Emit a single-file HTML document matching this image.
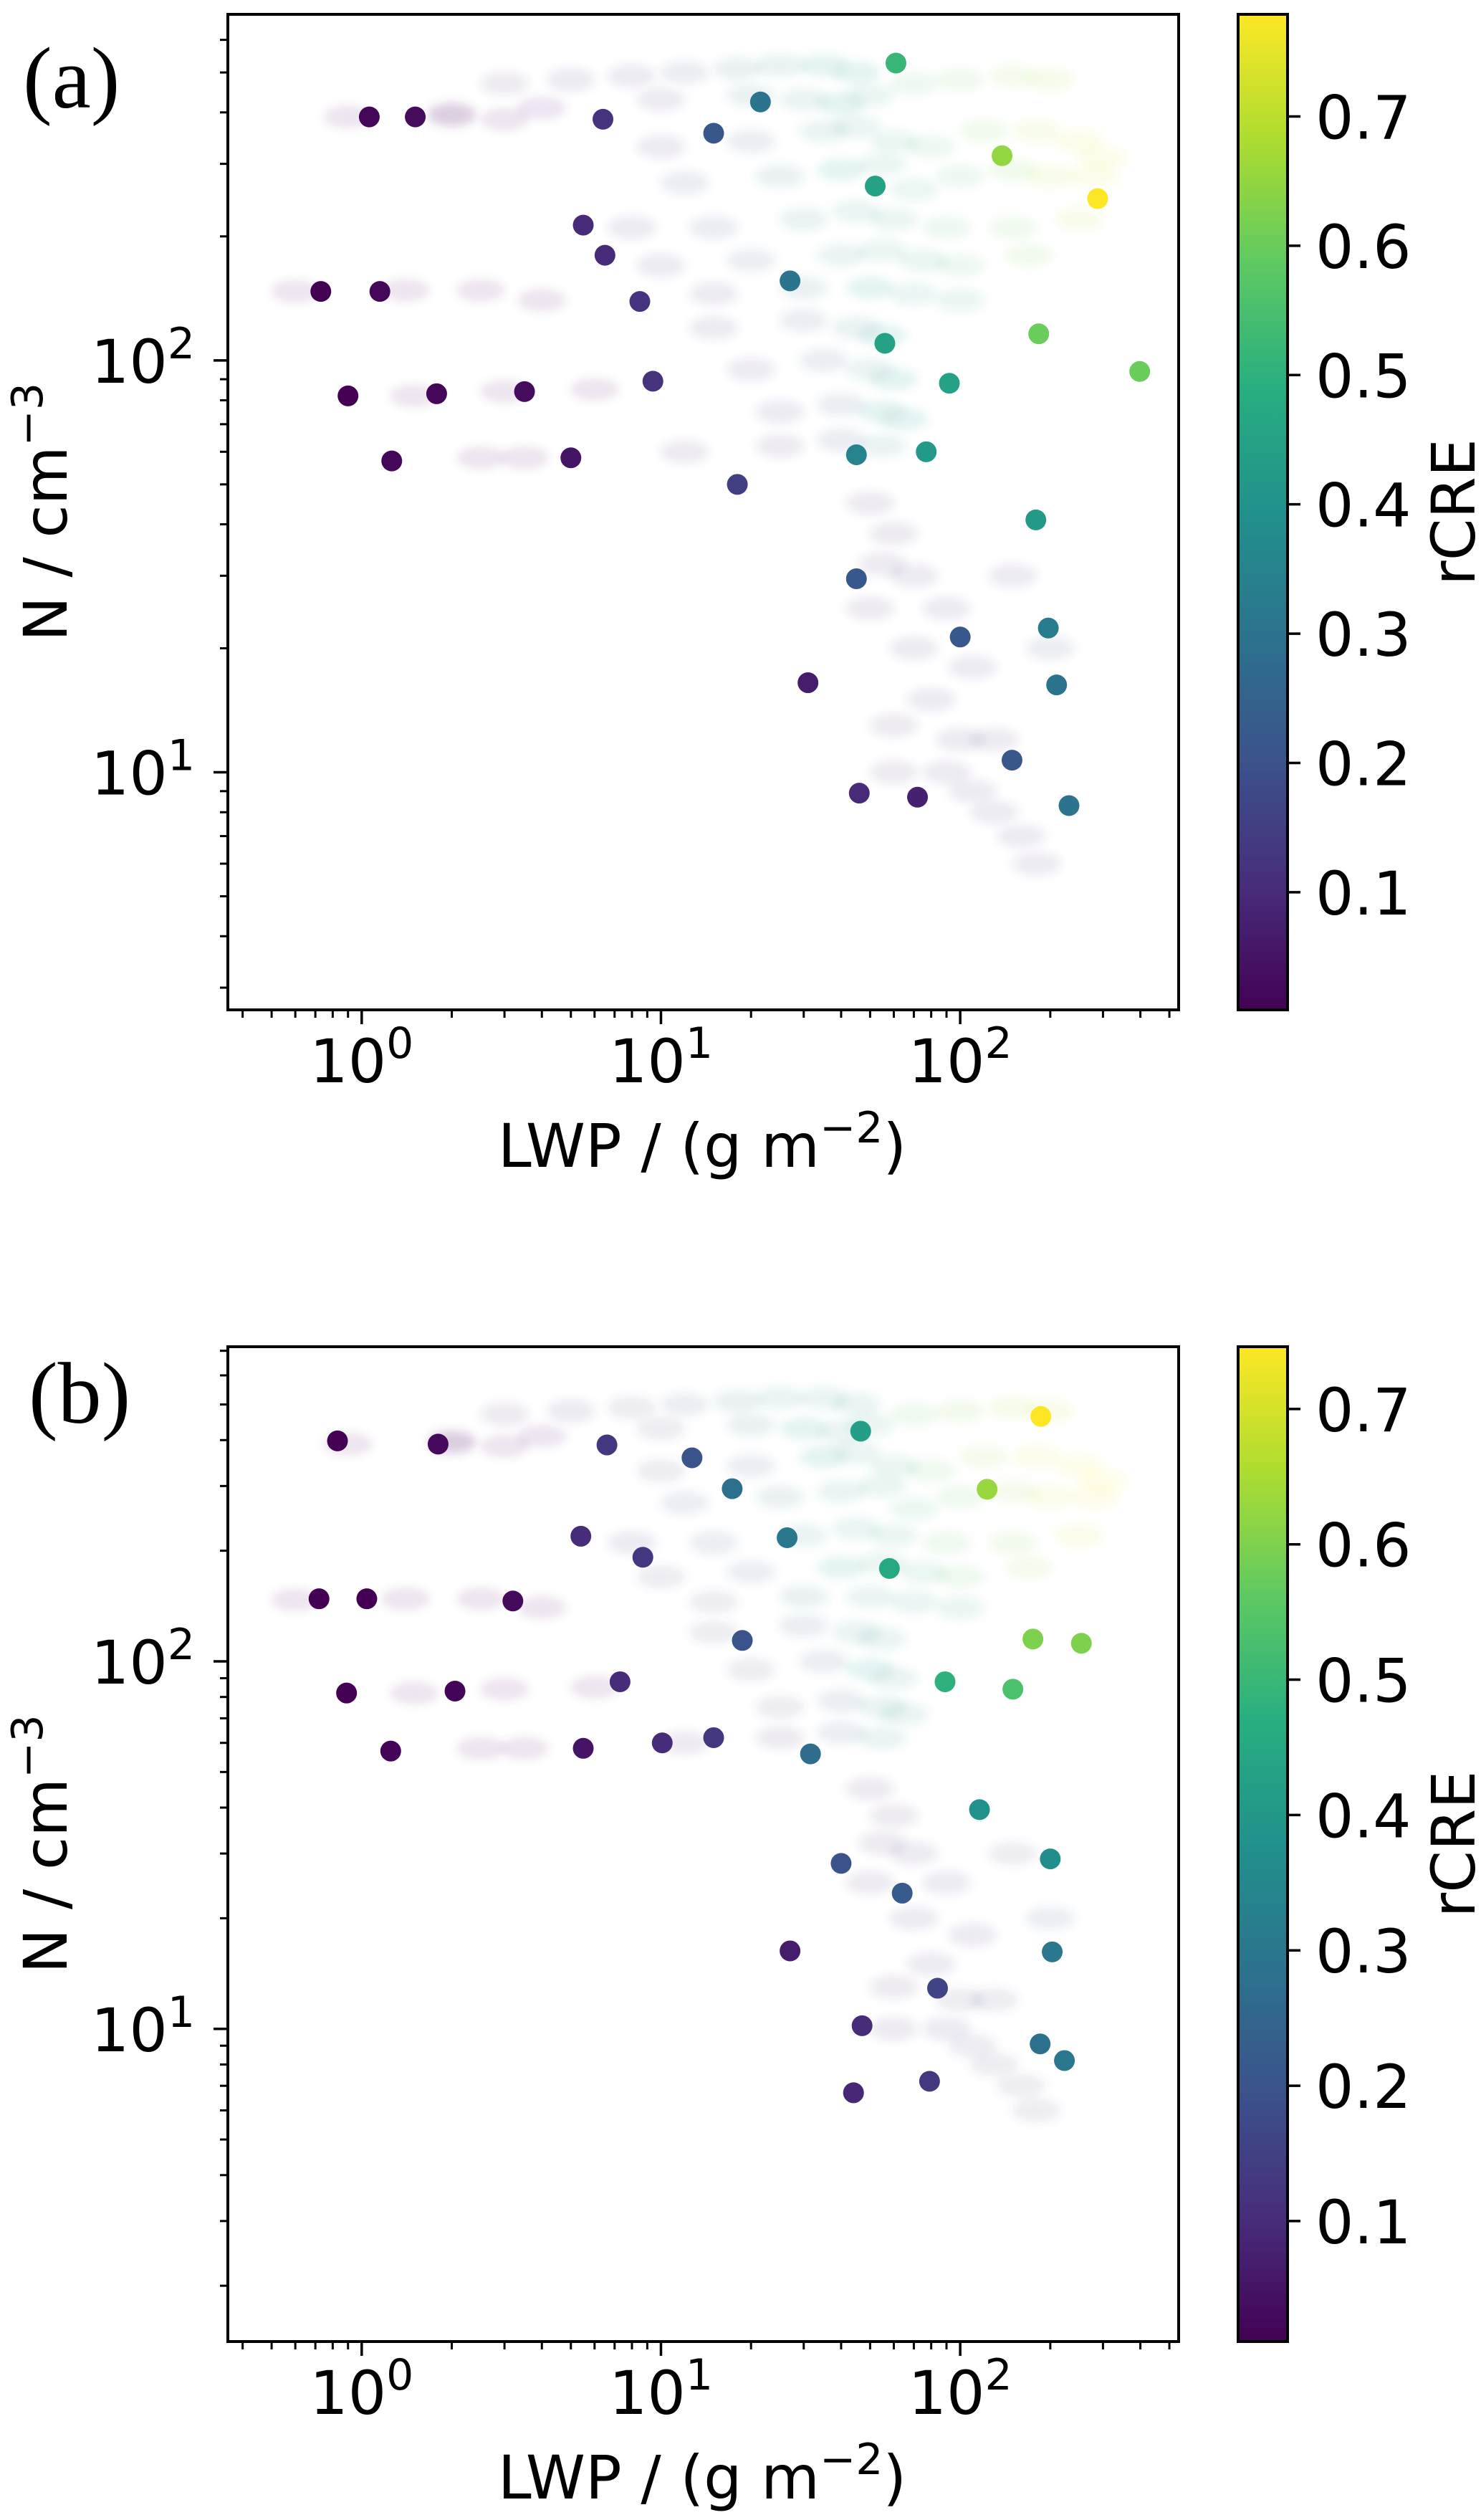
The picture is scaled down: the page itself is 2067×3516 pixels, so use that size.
<!DOCTYPE html>
<html><head><meta charset="utf-8">
<style>
html,body{margin:0;padding:0;background:#fff;}
svg{display:block;}
text{font-family:"DejaVu Sans","Liberation Sans",sans-serif;fill:#000;}
.serif{font-family:"Liberation Serif",serif;}
</style></head>
<body>
<svg id="fig" width="2067" height="3516" viewBox="0 0 2067 3516" xmlns="http://www.w3.org/2000/svg">
<defs>
<linearGradient id="viridis" x1="0" y1="1" x2="0" y2="0">
<stop offset="0" stop-color="#440154"/><stop offset="0.125" stop-color="#472d7b"/><stop offset="0.25" stop-color="#3b528b"/><stop offset="0.375" stop-color="#2c728e"/><stop offset="0.5" stop-color="#21918c"/><stop offset="0.625" stop-color="#28ae80"/><stop offset="0.75" stop-color="#5ec962"/><stop offset="0.875" stop-color="#addc30"/><stop offset="1" stop-color="#fde725"/>
</linearGradient>
<filter id="soft" x="-50%" y="-50%" width="200%" height="200%"><feGaussianBlur stdDeviation="6"/></filter>
</defs>
</svg>
<script>
// ---- data: panel (a) ----
const aLWP = [1.06,1.51,6.4,15,21.5,61,138,288,52,5.5,6.5,27,0.73,1.15,8.5,56,183,398,0.9,1.78,3.5,9.4,92,1.26,5,18,45,77,179,45,100,197,31,210,149,46,72,231];
const aN   = [390,390,385,356,424,527,314,247,265,213,180,156,147,147,139,110,116,94,82,83,84,89,88,57,58,50,59,60,41,29.5,21.3,22.4,16.5,16.3,10.7,8.9,8.7,8.3];
const aC   = [0.02,0.03,0.12,0.22,0.3,0.52,0.65,0.78,0.45,0.1,0.1,0.3,0.01,0.02,0.12,0.45,0.6,0.6,0.01,0.02,0.03,0.12,0.45,0.02,0.05,0.15,0.35,0.42,0.42,0.22,0.22,0.33,0.07,0.3,0.22,0.1,0.08,0.3];
// ---- data: panel (b) ----
const bLWP = [0.83,1.8,6.6,12.7,17.3,46.5,186,123,5.4,8.7,26.4,58,0.72,1.04,3.2,18.7,175,254,0.89,2.05,7.3,89,150,1.25,5.5,10.1,15,31.6,116,40,200,64,27,203,84,47,185,223,79,44];
const bN   = [398,390,388,358,295,423,464,294,219,192,217,179,148,148,146,114,115,112,82,83,88,88,84,57,58,60,62,56,39.5,28.2,29,23.4,16.3,16.2,12.9,10.2,9.1,8.2,7.2,6.7];
const bC   = [0.01,0.03,0.13,0.2,0.28,0.42,0.75,0.63,0.1,0.13,0.3,0.45,0.01,0.01,0.03,0.2,0.6,0.6,0.01,0.02,0.1,0.48,0.53,0.02,0.05,0.1,0.13,0.27,0.38,0.2,0.37,0.22,0.07,0.3,0.16,0.1,0.28,0.3,0.13,0.09];
// ---- faint background ensemble (shared) ----
const bgLWP = [3,5,8,12,18,25,35,45, 2,4,10,20,30,40,50,70,100,150,200, 10,20,35,45,60,80,120,180,250,300, 12,25,40,55,70,100,150,200,280, 8,15,30,45,60,90,150,250, 10,20,40,55,75,100,170, 15,30,50,70,100, 15,30,45,55, 20,35,50,60, 25,40,55,65, 25,40,55, 50,60,55,70,90,50,70,110,80,60,100,130,90,110,130,160,180,60,150,200, 0.6,1.4,2.5,4,1.5,3,6,2.5,3.5,12,0.9,2,3];
const bgN   = [470,480,490,500,510,520,520,500, 400,410,430,440,430,420,440,470,480,490,480, 330,340,360,370,340,330,360,360,340,310, 270,280,290,300,260,280,290,280,280, 210,210,220,230,220,210,210,220, 170,175,180,185,175,170,180, 145,150,150,145,140, 120,125,120,115, 95,100,95,90, 75,78,75,72, 62,64,62, 45,38,32,30,25,25,20,18,15,13,12,12,10,9,8,7,6,10,30,20, 147,148,148,140,82,84,85,58,58,60,390,390,385];
const bgC   = [0.1,0.12,0.15,0.2,0.3,0.35,0.4,0.4, 0.05,0.08,0.15,0.3,0.38,0.4,0.45,0.55,0.6,0.65,0.68, 0.15,0.25,0.38,0.42,0.45,0.55,0.62,0.7,0.74,0.76, 0.2,0.3,0.4,0.45,0.5,0.55,0.62,0.7,0.74, 0.12,0.2,0.35,0.42,0.45,0.55,0.6,0.7, 0.15,0.25,0.38,0.45,0.48,0.55,0.62, 0.15,0.3,0.4,0.42,0.45, 0.15,0.25,0.35,0.4, 0.15,0.25,0.38,0.4, 0.15,0.25,0.4,0.4, 0.1,0.2,0.35, 0.1,0.1,0.1,0.12,0.12,0.1,0.12,0.12,0.12,0.1,0.15,0.15,0.12,0.15,0.15,0.15,0.15,0.1,0.15,0.2, 0.01,0.02,0.03,0.05,0.02,0.03,0.05,0.02,0.03,0.1,0.02,0.03,0.05];
const xTickLabels = ["0","1","2"];
const yTickLabels = ["1","2"];
const cbTicks = [0.1,0.2,0.3,0.4,0.5,0.6,0.7];

const NS="http://www.w3.org/2000/svg";
const svg=document.getElementById('fig');
function mk(tag,attrs,parent){const e=document.createElementNS(NS,tag);for(const k in attrs)e.setAttribute(k,attrs[k]);(parent||svg).appendChild(e);return e;}

const stops=[[0,[68,1,84]],[0.125,[71,45,123]],[0.25,[59,82,139]],[0.375,[44,114,142]],[0.5,[33,145,140]],[0.625,[40,174,128]],[0.75,[94,201,98]],[0.875,[173,220,48]],[1,[253,231,37]]];
function viridis(t){t=Math.max(0,Math.min(1,t));for(let i=1;i<stops.length;i++){if(t<=stops[i][0]){const a=stops[i-1],b=stops[i];const f=(t-a[0])/(b[0]-a[0]);const c=a[1].map((v,j)=>Math.round(v+(b[1][j]-v)*f));return `rgb(${c[0]},${c[1]},${c[2]})`;}}return 'rgb(253,231,37)';}

function panel(cfg){
  const L=318,R=1645,T=cfg.top,B=cfg.bottom;
  const xlog0=Math.log10(0.357), xlog1=Math.log10(537);
  const xs=v=>L+(Math.log10(v)-xlog0)/(xlog1-xlog0)*(R-L);
  const ys=v=>B-(Math.log10(v)-Math.log10(cfg.ymin))/(Math.log10(cfg.ymax)-Math.log10(cfg.ymin))*(B-T);
  const g=mk('g',{});
  
  
  const bg=mk('g',{filter:'url(#soft)'},g);
  
  
  for(let i=0;i<bgLWP.length;i++){
    const c=mk('ellipse',{cx:xs(bgLWP[i]),cy:ys(bgN[i]),rx:34,ry:16,fill:viridis((bgC[i]-cfg.cmin)/(cfg.cmax-cfg.cmin)),'fill-opacity':0.1},bg);
    
    
  }
  for(let i=0;i<cfg.lwp.length;i++){
    const c=mk('circle',{cx:xs(cfg.lwp[i]),cy:ys(cfg.n[i]),r:14.5,fill:viridis((cfg.c[i]-cfg.cmin)/(cfg.cmax-cfg.cmin))},g);
    
    
  }
  const fr=mk('rect',{x:L,y:T,width:R-L,height:B-T,fill:'none',stroke:'#000','stroke-width':4},g);
  
  
  for(let d=-1;d<=2;d++){for(let m=1;m<=9;m++){const v=m*Math.pow(10,d);if(v<0.357||v>537)continue;const x=xs(v);mk('line',{x1:x,x2:x,y1:B,y2:B+(m===1?20:11),stroke:'#000','stroke-width':m===1?3.5:3},g);}}
  xTickLabels.forEach(p=>{const x=xs(Math.pow(10,+p));const t=mk('text',{x:x,y:B+101,'font-size':84,'text-anchor':'middle'},g);t.innerHTML=`10<tspan dy="-34" font-size="60">${p}</tspan>`;});
  for(let d=0;d<=2;d++){for(let m=1;m<=9;m++){const v=m*Math.pow(10,d);if(v<cfg.ymin||v>cfg.ymax)continue;const y=ys(v);mk('line',{x1:L,x2:L-(m===1?20:11),y1:y,y2:y,stroke:'#000','stroke-width':m===1?3.5:3},g);}}
  yTickLabels.forEach(p=>{const y=ys(Math.pow(10,+p));const t=mk('text',{x:272,y:y+31,'font-size':84,'text-anchor':'end'},g);t.innerHTML=`10<tspan dy="-34" font-size="60">${p}</tspan>`;});
  const xt=mk('text',{x:980,y:B+219,'font-size':84,'text-anchor':'middle'},g);
  xt.innerHTML='LWP / (g m<tspan dy="-34" font-size="60">−2</tspan><tspan dy="34">)</tspan>';
  
  
  const yc=(T+B)/2;
  const yt=mk('text',{x:0,y:0,'font-size':84,'text-anchor':'middle',transform:`translate(93,${yc}) rotate(-90)`},g);
  yt.innerHTML='N / cm<tspan dy="-34" font-size="60">−3</tspan>';
  
  
  const pl=mk('text',{x:cfg.labelX,y:cfg.labelY,'font-size':122,'class':'serif'},g);
  pl.textContent=cfg.label;
  
  
  const CL=1728,CR=1797;
  const cb=mk('rect',{x:CL,y:T,width:CR-CL,height:B-T,fill:'url(#viridis)',stroke:'#000','stroke-width':4},g);
  
  
  const cy=v=>B-(v-cfg.cmin)/(cfg.cmax-cfg.cmin)*(B-T);
  cbTicks.forEach(v=>{const y=cy(v);mk('line',{x1:CR,x2:CR+18,y1:y,y2:y,stroke:'#000','stroke-width':3.5},g);const t=mk('text',{x:1836,y:y+31,'font-size':84},g);t.textContent=v.toFixed(1);});
  const ct=mk('text',{x:0,y:0,'font-size':84,'text-anchor':'middle',transform:`translate(2058,${yc}) rotate(-90)`},g);
  ct.textContent='rCRE';
  
  
}
panel({name:'panel-a',label:'(a)',labelX:32,labelY:150,top:20,bottom:1409,ymin:2.65,ymax:692,cmin:0.009,cmax:0.779,lwp:aLWP,n:aN,c:aC});
panel({name:'panel-b',label:'(b)',labelX:40,labelY:1985,top:1879,bottom:3267,ymin:1.41,ymax:718,cmin:0.011,cmax:0.746,lwp:bLWP,n:bN,c:bC});
</script>
</body></html>
